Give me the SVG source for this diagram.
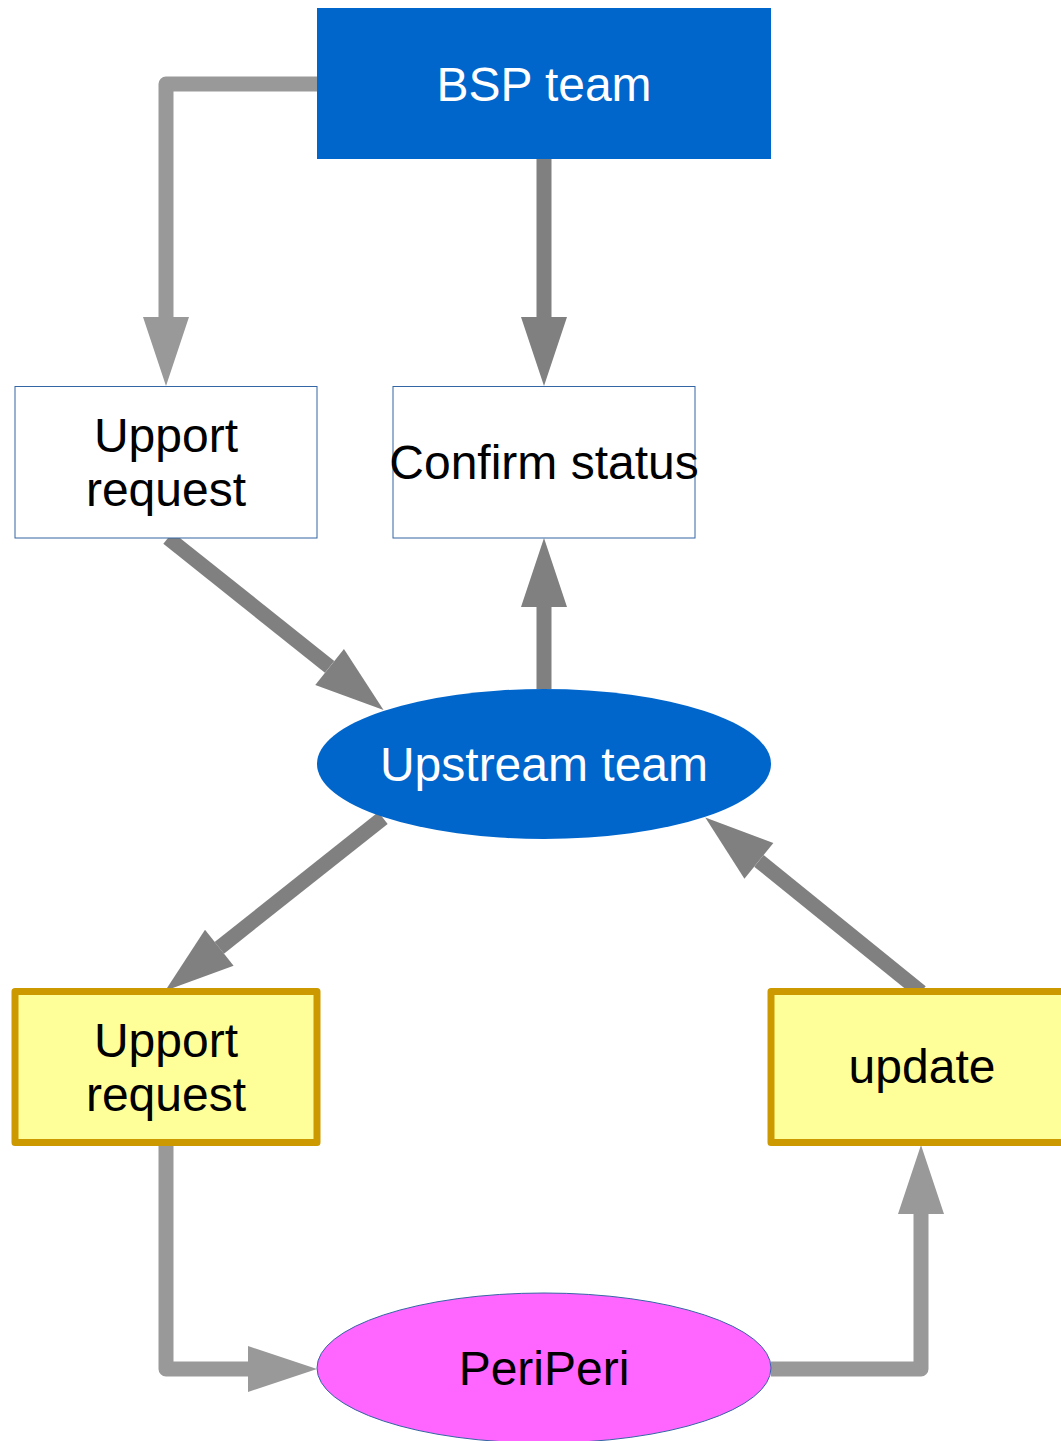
<svg xmlns="http://www.w3.org/2000/svg" width="1061" height="1441" viewBox="0 0 1061 1441">
<style>
.t{font-family:"Liberation Sans",Arial,sans-serif;font-size:48px;text-anchor:middle}
.w{fill:#ffffff}
.k{fill:#000000}
.plain{fill:#ffffff;stroke:#3465a4;stroke-width:1}
.yel{fill:#ffff99;stroke:#cc9900;stroke-width:7;stroke-linejoin:round}
.c1{fill:none;stroke:#999999;stroke-width:15;stroke-linejoin:round}
.c2{fill:none;stroke:#808080;stroke-width:15;stroke-linejoin:round}
</style>
<defs>
<marker id="a1" markerUnits="userSpaceOnUse" markerWidth="70" markerHeight="48" refX="0" refY="23" orient="auto" overflow="visible"><path d="M0,0 L69,23 L0,46 z" fill="#999999"/></marker>
<marker id="a2" markerUnits="userSpaceOnUse" markerWidth="70" markerHeight="48" refX="0" refY="23" orient="auto" overflow="visible"><path d="M0,0 L69,23 L0,46 z" fill="#808080"/></marker>
</defs>
<rect width="1061" height="1441" fill="#ffffff"/>
<g id="connectors">
<path class="c1" d="M317,84 H166 V317" marker-end="url(#a1)"/>
<path class="c2" d="M544,159 V317" marker-end="url(#a2)"/>
<path class="c2" d="M168,538 L329.6,666.9" marker-end="url(#a2)"/>
<path class="c2" d="M544,689 V607" marker-end="url(#a2)"/>
<path class="c2" d="M383,818 L219.3,947.8" marker-end="url(#a2)"/>
<path class="c2" d="M921,992 L758.9,860.8" marker-end="url(#a2)"/>
<path class="c1" d="M166,1142 V1369 H248" marker-end="url(#a1)"/>
<path class="c1" d="M771,1369 H921 V1214" marker-end="url(#a1)"/>
</g>
<g id="bsp">
<rect x="317" y="8" width="454" height="151" fill="#0066cc"/>
<text class="t w" x="544" y="101">BSP team</text>
</g>
<g id="upport1">
<rect class="plain" x="15" y="386.5" width="302" height="151.5"/>
<text class="t k" x="166" y="452">Upport</text>
<text class="t k" x="166" y="506">request</text>
</g>
<g id="confirm">
<rect class="plain" x="393" y="386.5" width="302" height="151.5"/>
<text class="t k" x="544" y="479">Confirm status</text>
</g>
<g id="upstream">
<ellipse cx="544" cy="764" rx="227" ry="75" fill="#0066cc"/>
<text class="t w" x="544" y="781">Upstream team</text>
</g>
<g id="upport2">
<rect class="yel" x="15" y="991.5" width="302" height="151"/>
<text class="t k" x="166" y="1057">Upport</text>
<text class="t k" x="166" y="1111">request</text>
</g>
<g id="update">
<rect class="yel" x="771" y="991.5" width="302" height="151"/>
<text class="t k" x="922" y="1083">update</text>
</g>
<g id="periperi">
<ellipse cx="544" cy="1368" rx="227" ry="75" fill="#ff66ff" stroke="#3465a4" stroke-width="1"/>
<text class="t k" x="544" y="1385">PeriPeri</text>
</g>
</svg>
